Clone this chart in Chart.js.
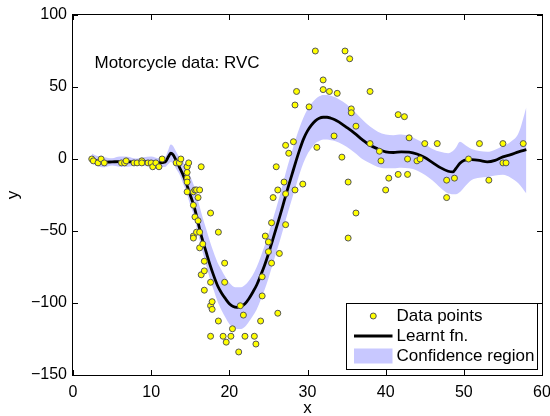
<!DOCTYPE html>
<html>
<head>
<meta charset="utf-8">
<script src="https://cdn.jsdelivr.net/npm/chart.js@4/dist/chart.umd.min.js"></script>
<style>
html,body{margin:0;padding:0;background:#fff;}
#wrap{width:550px;height:416px;position:relative;}
</style>
</head>
<body>
<div id="wrap"><canvas id="c" width="550" height="416"></canvas></div>
<script>
// ---- data (motorcycle crash data) ----
const times = [2.4,2.6,3.2,3.6,4.0,6.2,6.6,6.8,7.8,8.2,8.8,8.8,9.6,10.0,10.2,10.6,11.0,11.4,13.2,13.6,13.8,14.6,14.6,14.6,14.6,14.6,14.6,14.8,15.4,15.4,15.4,15.4,15.6,15.6,15.8,15.8,16.0,16.0,16.2,16.2,16.2,16.4,16.4,16.6,16.8,16.8,16.8,17.6,17.6,17.6,17.6,17.8,17.8,18.6,18.6,19.2,19.4,19.4,19.6,20.2,20.4,21.2,21.4,21.8,22.0,23.2,23.4,24.0,24.2,24.2,24.6,25.0,25.0,25.4,25.4,25.6,26.0,26.2,26.2,26.4,27.0,27.2,27.2,27.2,27.6,28.2,28.4,28.4,28.6,29.4,30.2,31.0,31.2,32.0,32.0,32.8,33.4,33.8,34.4,34.8,35.2,35.2,35.4,35.6,35.6,36.2,36.2,38.0,38.0,39.2,39.4,40.0,40.4,41.6,41.6,42.4,42.8,42.8,43.0,44.0,44.4,45.0,46.6,47.8,47.8,48.8,50.6,52.0,53.2,55.0,55.0,55.4,57.6];
const accel = [0.0,-1.3,-2.7,0.0,-2.7,-2.7,-2.7,-1.3,-2.7,-2.7,-1.3,-2.7,-2.7,-2.7,-5.4,-2.7,-5.4,0.0,-2.7,-2.7,0.0,-13.3,-5.4,-5.4,-9.3,-16.0,-22.8,-2.7,-22.8,-32.1,-53.5,-54.9,-40.2,-21.5,-21.5,-50.8,-42.9,-26.8,-21.5,-50.8,-61.7,-5.4,-80.4,-59.0,-71.0,-91.1,-77.7,-37.5,-85.6,-123.1,-101.9,-99.1,-104.4,-112.5,-50.8,-123.1,-85.6,-72.3,-127.2,-123.1,-117.9,-134.0,-101.9,-108.4,-123.1,-123.1,-128.5,-112.5,-95.1,-81.8,-53.5,-64.4,-57.6,-72.3,-44.3,-26.8,-5.4,-107.1,-21.5,-65.6,-16.0,-45.6,-24.2,9.5,4.0,12.0,-21.5,37.5,46.9,-17.4,36.2,75.0,8.1,54.9,48.2,46.9,16.0,45.6,1.3,75.0,-16.0,-54.9,69.6,34.8,32.1,-37.5,22.8,46.9,10.7,5.4,-1.3,-21.5,-13.3,30.8,-10.7,29.4,0.0,-10.7,14.7,-1.3,0.0,10.7,10.7,-26.8,-14.7,-13.3,0.0,10.7,-14.7,-2.7,10.7,-2.7,10.7];

// learnt function and confidence region
const fitX = [2.4,3,4,5,6,7,8,9,10,11,11.8,
  12.2,12.5,12.8,13.2,13.6,
  14,14.5,15,15.5,16,16.5,17,17.5,18,18.5,19,19.5,
  20,20.5,21,21.5,22,22.5,23,23.5,24,24.5,25,25.5,
  26,26.5,27,27.5,28,28.5,29,29.5,30,30.5,
  31,31.5,32,32.5,33,33.5,34,
  35,36,37,38,39,40,
  41,42,43,44,45,46,47,48,48.6,49,49.5,50,50.5,51,52,53,54,55,56,57,58];
const fitMean = [0.8,-1.2,-2.2,-2.0,-1.8,-1.9,-2.2,-1.8,-1.8,-2.6,-2.0,
  1.5,4.0,3.0,-1,-5.5,
  -10,-17,-25,-33,-44,-55,-64,-73,-81,-88,-93,-97,
  -100.5,-102.5,-103,-102.5,-100.5,-97,-92.5,-87.5,-81,-74,-66,-57,
  -48,-39,-29.5,-20,-11,-2,6.5,14,19.5,23.5,
  26.5,28.3,29,29,28.3,27.3,25.8,
  22,18,13.5,9.5,7,5,
  4.5,5,4.8,3.5,1,-2.5,-6,-8.5,-9,-6.5,-3,-1,-0.6,-0.5,-1,-2,-1,1.5,3,5,6.5];
const bandHi = [3.8,2.3,1.3,0.5,1.7,1.6,0.3,1.2,1.7,0.4,1.5,
  6.5,10,9,5,1.5,
  -1,-6,-12,-19,-29,-39,-48,-57,-65,-72,-77,-82,
  -86,-88.5,-89,-89,-87.5,-84.5,-80.5,-75,-68,-60.5,-52,-43,
  -34,-24.5,-14,-4,5,14,22,29,34.5,38.5,
  41.5,43.5,44.5,44.5,44,43,41.5,
  38,33,27.5,22.5,19,17,
  16.5,17,16,13.5,10.5,7,5,4,5.5,8,12,10.5,8.5,7,5.5,5,6.5,9,12,18,36];
const bandLo = [-2.2,-4.7,-5.7,-4.5,-5.3,-5.4,-4.7,-4.8,-5.3,-5.6,-5.5,
  -3.5,-2,-3,-7,-10.5,
  -16,-23,-32,-40,-52,-63,-73,-83,-91,-99,-105,-110,
  -114.5,-117,-118,-118,-116.5,-113,-109,-104.5,-98,-91,-83,-74,
  -65,-56,-46.5,-37,-28,-19,-10,-2.5,3.5,7.5,
  11,12.5,13.5,13.5,13,12.5,11.5,
  8.5,4.5,0,-3,-5.5,-6.5,
  -6.5,-6,-6.5,-8,-11,-15,-20,-24,-24.5,-24.5,-23,-20,-17,-14.5,-13,-12.5,-11.5,-11,-13,-17,-24];

const xRange = [0, 60];
const yRange = [-150, 100];
const xStep = 10;
const yStep = 50;
const titleText = 'Motorcycle data: RVC';
const legendLabels = ['Data points', 'Learnt fn.', 'Confidence region'];
const xLabel = 'x';
const yLabel = 'y';

// ---- styles ----
const FONT = "'Liberation Sans', Arial, Helvetica, sans-serif";
const BAND = 'rgb(200,200,255)';
const PT_FILL = '#ffff00';
const PT_EDGE = '#555555';

const pts = times.map((t, i) => ({x: t, y: accel[i]}));
const meanPts = fitX.map((t, i) => ({x: t, y: fitMean[i]}));
const hiPts = fitX.map((t, i) => ({x: t, y: bandHi[i]}));
const loPts = fitX.map((t, i) => ({x: t, y: bandLo[i]}));

const decor = {
  id: 'decor',
  afterDatasetsDraw(chart) {
    const {ctx, chartArea: ca, scales: {x, y}} = chart;
    ctx.save();
    ctx.strokeStyle = '#000';
    ctx.lineWidth = 1;
    ctx.beginPath();
    const TL = 5;
    x.ticks.forEach(t => {
      const px = Math.round(x.getPixelForValue(t.value)) + 0.5;
      ctx.moveTo(px, ca.bottom); ctx.lineTo(px, ca.bottom - TL);
      ctx.moveTo(px, ca.top); ctx.lineTo(px, ca.top + TL);
    });
    y.ticks.forEach(t => {
      const py = Math.round(y.getPixelForValue(t.value)) + 0.5;
      ctx.moveTo(ca.left, py); ctx.lineTo(ca.left + TL, py);
      ctx.moveTo(ca.right, py); ctx.lineTo(ca.right - TL, py);
    });
    ctx.stroke();
    ctx.strokeRect(ca.left - 0.5, ca.top - 0.5, ca.right - ca.left + 1, ca.bottom - ca.top + 1);

    // in-plot title
    ctx.fillStyle = '#000';
    ctx.font = '17px ' + FONT;
    ctx.textAlign = 'left';
    ctx.textBaseline = 'middle';
    ctx.fillText(titleText, ca.left + 21.5, ca.top + 48.5);

    // legend box
    const bx = ca.right - 196, by = ca.bottom - 72, bw = 191, bh = 66;
    ctx.fillStyle = '#fff';
    ctx.fillRect(bx, by, bw, bh);
    ctx.strokeRect(bx + 0.5, by + 0.5, bw, bh);
    const rows = [by + 13, by + 33, by + 53];
    const sx = bx + 8, ex = bx + 46.5, tx = bx + 50.5;
    ctx.beginPath();
    ctx.arc((sx + ex) / 2, rows[0], 3, 0, Math.PI * 2);
    ctx.fillStyle = PT_FILL; ctx.fill();
    ctx.strokeStyle = PT_EDGE; ctx.lineWidth = 1; ctx.stroke();
    ctx.beginPath();
    ctx.moveTo(sx, rows[1]); ctx.lineTo(ex, rows[1]);
    ctx.strokeStyle = '#000'; ctx.lineWidth = 2.8; ctx.stroke();
    ctx.fillStyle = BAND;
    ctx.fillRect(sx, rows[2] - 7.5, ex - sx, 15);
    ctx.fillStyle = '#000';
    ctx.font = '17px ' + FONT;
    legendLabels.forEach((s, i) => ctx.fillText(s, tx, rows[i]));
    ctx.restore();
  }
};

const minusFmt = v => String(v).replace('-', '\u2212');

new Chart(document.getElementById('c'), {
  type: 'scatter',
  data: {
    datasets: [
      {label: legendLabels[0], data: pts, order: 0, pointRadius: 3, pointHoverRadius: 3,
       pointBackgroundColor: PT_FILL, pointBorderColor: PT_EDGE, pointBorderWidth: 1, showLine: false},
      {label: legendLabels[1], data: meanPts, order: 1, showLine: true, pointRadius: 0,
       borderColor: '#000', borderWidth: 2.8, cubicInterpolationMode: 'monotone', fill: false},
      {label: 'lo', data: loPts, order: 3, showLine: true, pointRadius: 0, borderWidth: 0,
       borderColor: 'rgba(0,0,0,0)', cubicInterpolationMode: 'monotone', fill: false},
      {label: legendLabels[2], data: hiPts, order: 2, showLine: true, pointRadius: 0, borderWidth: 0,
       borderColor: 'rgba(0,0,0,0)', backgroundColor: BAND, cubicInterpolationMode: 'monotone', fill: '-1'}
    ]
  },
  options: {
    responsive: false,
    animation: false,
    devicePixelRatio: 1,
    layout: {padding: {top: 15, right: 8, left: 0, bottom: 0}},
    plugins: {legend: {display: false}, tooltip: {enabled: false}, title: {display: false}},
    scales: {
      x: {
        type: 'linear', position: 'bottom', min: xRange[0], max: xRange[1],
        grid: {display: false, drawTicks: false},
        border: {display: false},
        ticks: {stepSize: xStep, padding: 8, color: '#000', font: {family: FONT, size: 16}, callback: minusFmt, maxRotation: 0},
        title: {display: true, text: xLabel, color: '#000', font: {family: FONT, size: 17, lineHeight: 1.0}, padding: {top: 0, bottom: -1}},
        afterFit(s) { s.height = 41; s.paddingLeft = 0; s.paddingRight = 0; }
      },
      y: {
        type: 'linear', position: 'left', min: yRange[0], max: yRange[1],
        grid: {display: false, drawTicks: false},
        border: {display: false},
        ticks: {stepSize: yStep, padding: 6, color: '#000', font: {family: FONT, size: 16}, callback: minusFmt},
        title: {display: true, text: yLabel, color: '#000', font: {family: FONT, size: 17}, padding: {top: 3, bottom: 0}},
        afterFit(s) { s.width = 73; s.paddingTop = 0; s.paddingBottom = 0; }
      }
    }
  },
  plugins: [decor]
});
</script>
</body>
</html>
